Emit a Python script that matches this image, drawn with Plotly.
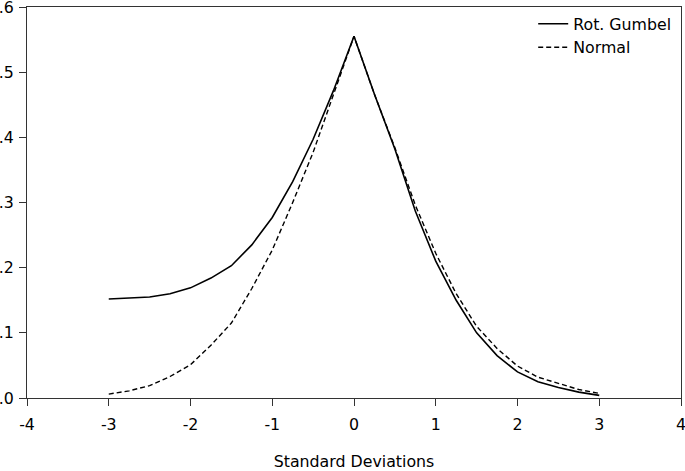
import plotly.graph_objects as go

x_vals = [-3.0, -2.75, -2.5, -2.25, -2.0, -1.75, -1.5, -1.25, -1.0, -0.75, -0.5, -0.25, 0.0,
          0.25, 0.5, 0.75, 1.0, 1.25, 1.5, 1.75, 2.0, 2.25, 2.5, 2.75, 3.0]

rot_gumbel = [0.152, 0.153, 0.155, 0.160, 0.169, 0.184, 0.203, 0.235, 0.277, 0.332, 0.397, 0.472, 0.555,
              0.466, 0.382, 0.287, 0.210, 0.150, 0.100, 0.065, 0.040, 0.025, 0.016, 0.009, 0.004]

normal = [0.006, 0.011, 0.019, 0.033, 0.051, 0.081, 0.115, 0.168, 0.227, 0.300, 0.377, 0.465, 0.555,
          0.466, 0.384, 0.296, 0.222, 0.160, 0.110, 0.076, 0.049, 0.032, 0.022, 0.013, 0.007]

x_ticks = [-4, -3, -2, -1, 0, 1, 2, 3, 4]
y_ticks = [0.0, 0.1, 0.2, 0.3, 0.4, 0.5, 0.6]

fig = go.Figure()
fig.add_trace(go.Scatter(x=x_vals, y=rot_gumbel, mode="lines", name="Rot. Gumbel",
                         line=dict(color="black", width=1.6)))
fig.add_trace(go.Scatter(x=x_vals, y=normal, mode="lines", name="Normal",
                         line=dict(color="black", width=1.4, dash="5px,3px")))

axis_font = dict(family="DejaVu Sans, sans-serif", size=15.8, color="black")

fig.update_layout(
    width=685, height=471,
    margin=dict(l=27, r=4, t=7, b=73),
    paper_bgcolor="white", plot_bgcolor="white",
    font=axis_font,
    showlegend=True,
    legend=dict(x=0.774, y=1.0, xanchor="left", yanchor="top",
                bgcolor="rgba(0,0,0,0)", font=axis_font,
                tracegroupgap=0, itemwidth=30),
    xaxis=dict(range=[-4, 4], tickvals=x_ticks, ticktext=[str(v) for v in x_ticks],
               showgrid=False, zeroline=False, showline=True, linecolor="#333",
               linewidth=1.3, mirror=True, ticks="outside", ticklen=7, tickcolor="#333",
               tickfont=axis_font, automargin=False, ticklabelstandoff=5,
               ticklabeloverflow="allow",
               title=dict(text="Standard Deviations", font=axis_font, standoff=30)),
    yaxis=dict(range=[0, 0.6], tickvals=y_ticks, ticktext=[f"{v:.1f}" for v in y_ticks],
               showgrid=False, zeroline=False, showline=True, linecolor="#333",
               linewidth=1.3, mirror=True, ticks="outside", ticklen=7, tickcolor="#333",
               tickfont=axis_font, automargin=False, ticklabelstandoff=2,
               ticklabeloverflow="allow"),
)

fig.write_html("out.html", config={"displayModeBar": False},
               post_script="document.body.style.margin='0';document.body.style.overflow='hidden';")
